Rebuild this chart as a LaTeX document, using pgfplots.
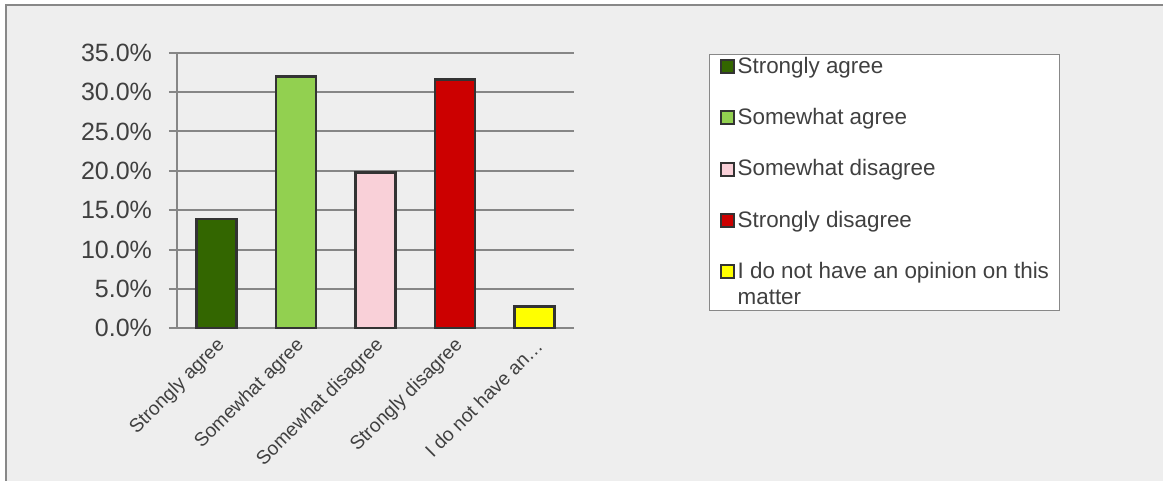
\documentclass[border=0pt]{standalone}
\usepackage{pgfplots}
\pgfplotsset{compat=1.18}
\usepackage{fontspec}
\setmainfont{Liberation Sans}
\definecolor{bg}{HTML}{EEEEEE}
\definecolor{framec}{HTML}{888888}
\definecolor{gridc}{HTML}{868686}
\definecolor{txt}{HTML}{404040}
\definecolor{edge}{HTML}{333333}
\definecolor{c1}{HTML}{336600}
\definecolor{c2}{HTML}{92D050}
\definecolor{c3}{HTML}{F9D0D8}
\definecolor{c4}{HTML}{CC0000}
\definecolor{c5}{HTML}{FFFF00}
\pgfplotsset{mybar/.style={ybar, bar width=20pt, bar shift=0pt, draw=edge, line width=1.3pt},
  lastlegend/.style={legend image code/.code={\path (0pt,-9.75pt); \draw[##1, draw=edge, line width=1pt] (0pt,3.25pt) rectangle (6.5pt,9.75pt);}}}
\begin{document}
\begin{tikzpicture}[x=1pt,y=1pt]
\useasboundingbox (0,0) rectangle (581.5,-240.5);
\fill[bg] (3,-2.5) rectangle (581.5,-240.5);
\draw[framec, line width=1pt] (3,-240.5) -- (3,-2.5) -- (581.5,-2.5);
\begin{axis}[
  at={(88.5pt,-164.15pt)}, anchor=south west,
  scale only axis, width=198.5pt, height=137.8pt,
  xmin=-0.5, xmax=4.5, ymin=0, ymax=35,
  axis x line*=bottom, axis y line*=left,
  axis line style={gridc, line width=1pt},
  ytick={0,5,...,35},
  yticklabel={\pgfmathprintnumber[fixed,fixed zerofill,precision=1,assume math mode=true]{\tick}\%},
  ymajorgrids, grid style={gridc, line width=1pt},
  xtick={0,...,4},
  xticklabels={Strongly agree, Somewhat agree, Somewhat disagree, Strongly disagree, I do not have an…},
  minor xtick={-0.5,0.5,...,4.5},
  xtick style={draw=none},
  minor x tick style={gridc, line width=1pt},
  y tick style={gridc, line width=1pt},
  tick align=outside,
  major tick length=4pt, minor tick length=2.5pt,
  every tick label/.append style={text=txt},
  yticklabel style={font=\fontsize{12.5}{15}\selectfont, xshift=-5pt},
  xticklabel style={rotate=45, anchor=east, font=\fontsize{9.6}{11}\selectfont, xshift=3pt, yshift=-4pt},
  legend cell align=left,
  legend style={at={(1.340,0.9964)}, anchor=north west, draw=framec, fill=white,
    font=\fontsize{11.2}{13}\selectfont, text=txt, inner xsep=5pt, inner ysep=1.5pt,
    row sep=16pt, column sep=1.5pt, nodes={inner sep=0pt}, cells={anchor=west, align=left}},
  legend image code/.code={\draw[#1, draw=edge, line width=1pt] (0pt,-3.25pt) rectangle (6.5pt,3.25pt);},
]
\addplot[mybar, fill=c1] coordinates {(0,13.9)};
\addlegendentry{Strongly agree}
\addplot[mybar, fill=c2] coordinates {(1,32.0)};
\addlegendentry{Somewhat agree}
\addplot[mybar, fill=c3] coordinates {(2,19.8)};
\addlegendentry{Somewhat disagree}
\addplot[mybar, fill=c4] coordinates {(3,31.6)};
\addlegendentry{Strongly disagree}
\addplot[mybar, fill=c5, lastlegend] coordinates {(4,2.8)};
\addlegendentry{I do not have an opinion on this\\matter}
\end{axis}
\end{tikzpicture}
\end{document}
